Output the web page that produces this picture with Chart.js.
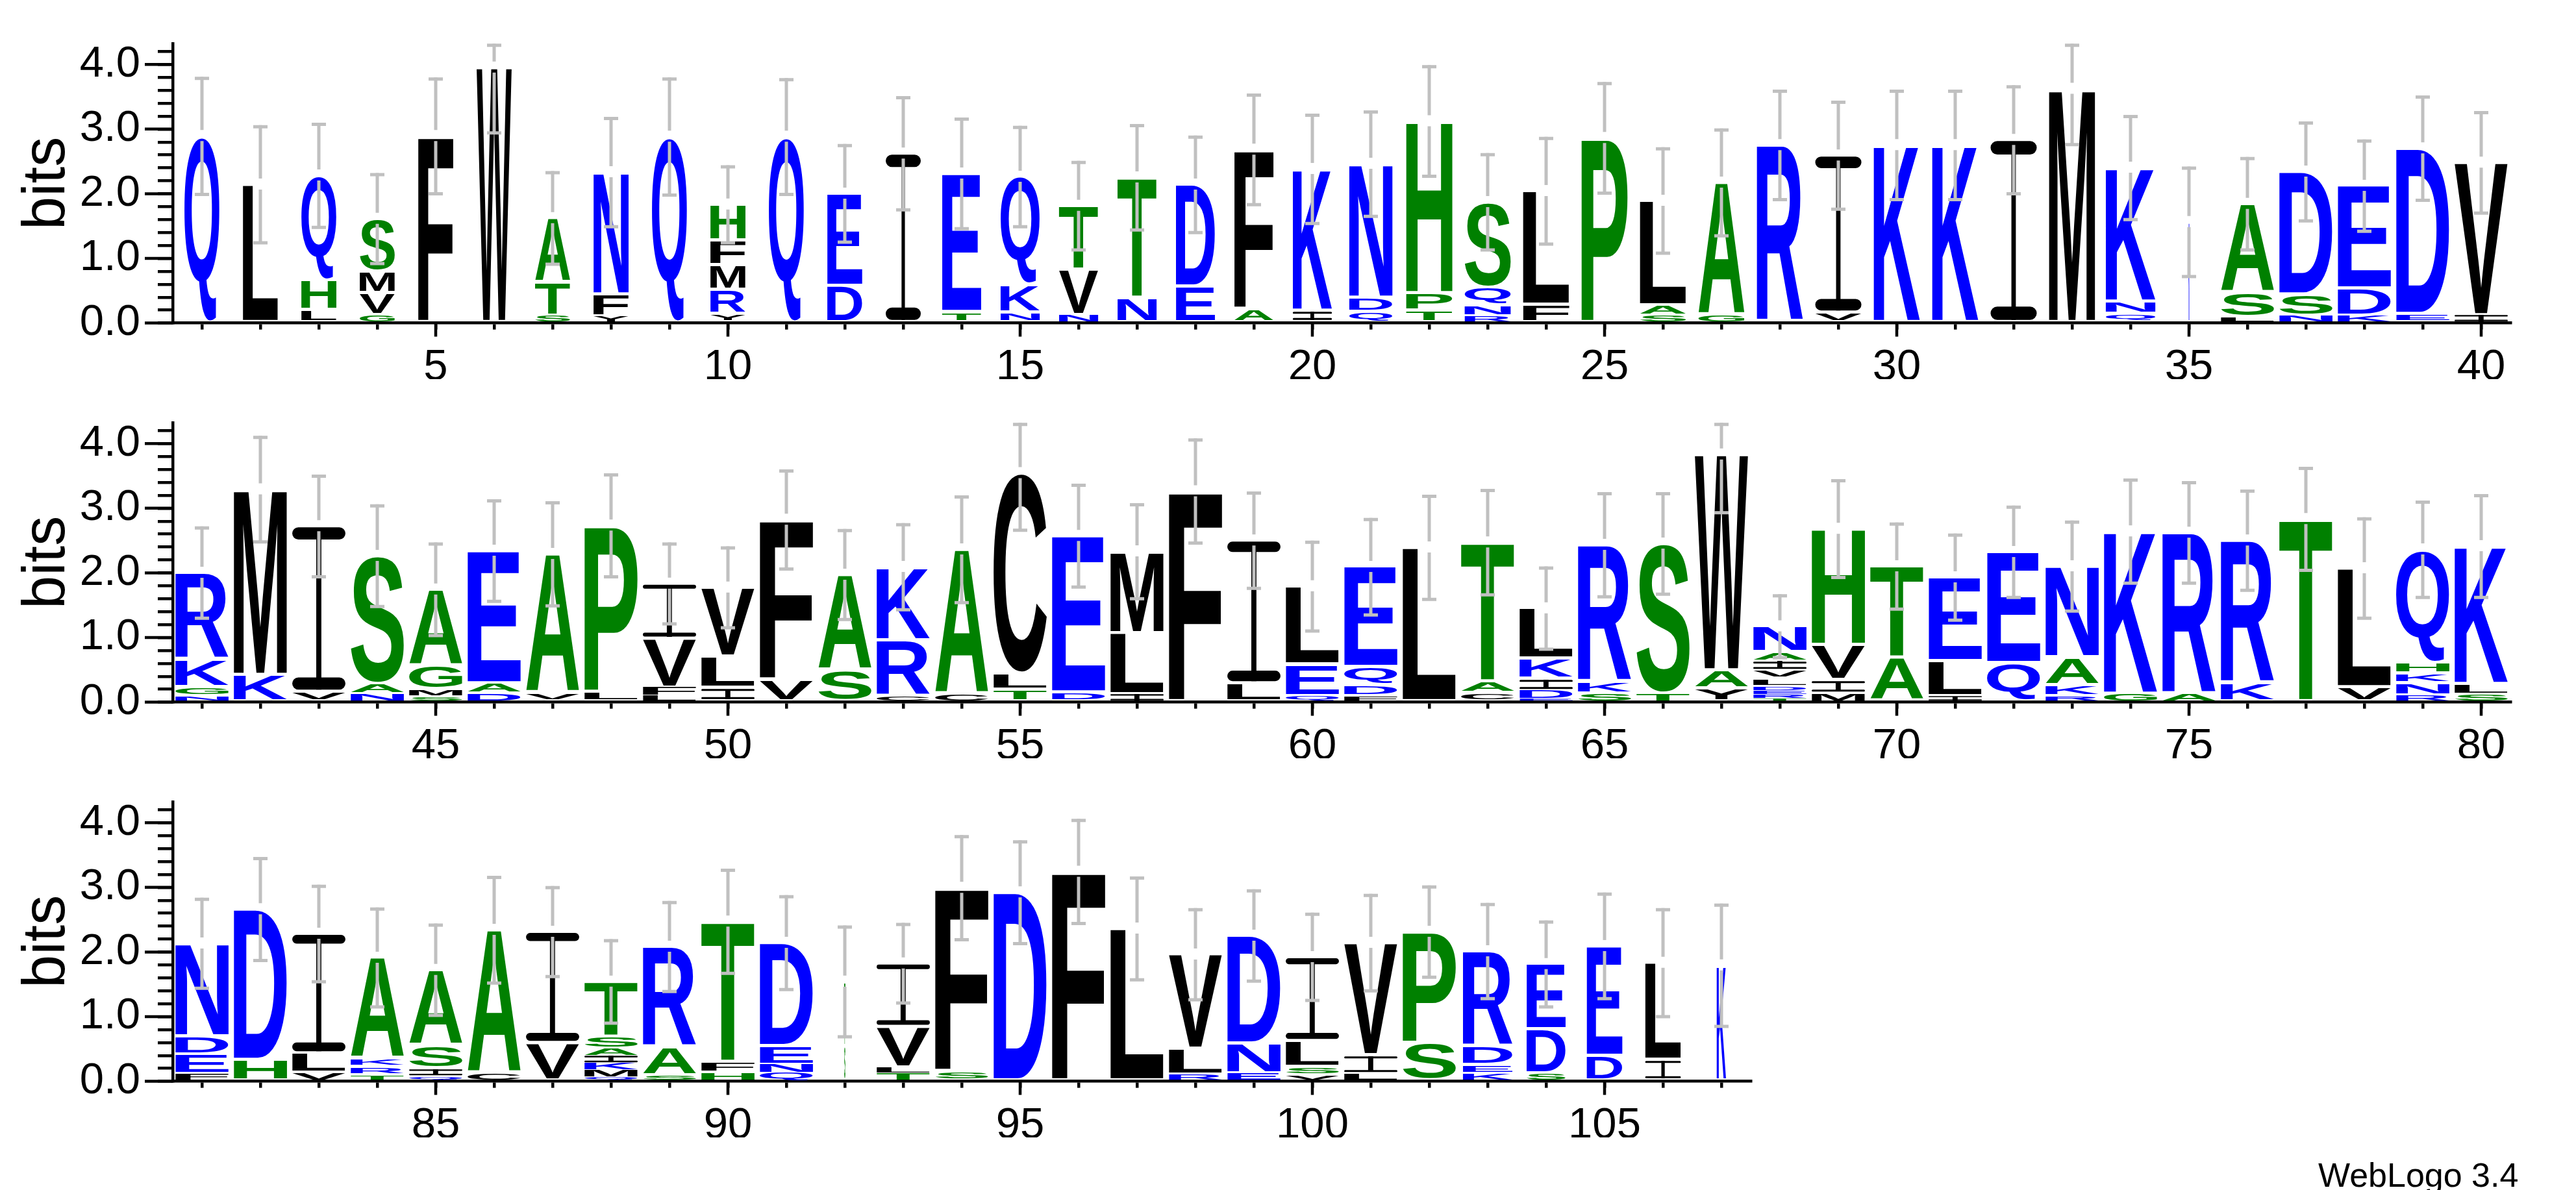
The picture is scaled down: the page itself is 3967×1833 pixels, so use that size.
<!DOCTYPE html>
<html lang="en">
  <head>
    <meta charset="utf-8" />
    <title>WebLogo 3.4</title>
    <style>
      * {
        margin: 0;
        padding: 0;
      }
      body {
        width: 3967px;
        height: 1833px;
        background: white;
        position: relative;
        overflow: hidden;
        font-family: "Liberation Sans", Arial, sans-serif;
      }
      .row {
        position: absolute;
        left: 0;
      }
      .credit {
        position: absolute;
        left: 3570px;
        top: 1784px;
        font-size: 52px;
        line-height: 52px;
        color: #000;
        white-space: nowrap;
      }
    </style>
  </head>
  <body>
    <canvas id="row1" class="row" width="3967" height="584" style="top: 0px"></canvas>
    <canvas id="row2" class="row" width="3967" height="584" style="top: 584px"></canvas>
    <canvas id="row3" class="row" width="3967" height="584" style="top: 1168px"></canvas>
    <div class="credit">WebLogo 3.4</div>

    <script src="https://cdn.jsdelivr.net/npm/chart.js"></script>

    <script>
      // letters of each stack, bottom to top
      const row1Letters = [
        "Q", "L", "LHQ", "GVMS", "F", "W", "STA", "YFN", "Q", "YRMFH",
        "Q", "DE", "I", "TE", "NKQ", "NVT", "NT", "ED", "AF", "IK",
        "QDN", "TPH", "RNQS", "FL", "P", "SAL", "GA", "R", "VI", "K",
        "K", "I", "M", "QNK", "K", "LSA", "NSD", "KDE", "ED", "IV",
      ];
      // bits of each letter, same order
      const row1Bits = [
        [2.9], [2.15], [0.21, 0.46, 1.62], [0.13, 0.34, 0.33, 0.82], [2.9], [3.96], [0.12, 0.52, 0.99], [0.11, 0.34, 1.89], [2.89], [0.15, 0.37, 0.38, 0.39, 0.55],
        [2.89], [0.58, 1.43], [2.63], [0.18, 2.14], [0.17, 0.43, 1.67], [0.13, 0.7, 0.99], [0.4, 1.86], [0.57, 1.58], [0.23, 2.46], [0.2, 2.19],
        [0.18, 0.22, 2.07], [0.2, 0.27, 2.66], [0.11, 0.17, 0.28, 1.32], [0.29, 1.76], [2.87], [0.12, 0.16, 1.62], [0.13, 2.05], [2.76], [0.17, 2.43], [2.76],
        [2.76], [2.84], [3.63], [0.15, 0.19, 2.07], [1.57], [0.1, 0.38, 1.37], [0.12, 0.33, 1.9], [0.12, 0.42, 1.59], [0.15, 2.56], [0.13, 2.36],
      ];
      const row1Err = [
        0.91, 0.91, 0.81, 0.7, 0.9, 1.02, 0.72, 0.85, 0.91, 0.6,
        0.9, 0.76, 0.88, 0.86, 0.78, 0.69, 0.82, 0.75, 0.86, 0.85,
        0.82, 0.86, 0.75, 0.83, 0.86, 0.82, 0.83, 0.85, 0.84, 0.85,
        0.85, 0.84, 0.87, 0.81, 0.85, 0.72, 0.77, 0.71, 0.81, 0.79,
      ];
      // fraction of sequences without a gap (stack width)
      const row1Occupancy = [
        0.6, 0.6, 0.6, 0.6, 0.6, 0.6, 0.6, 0.6, 0.6, 0.6,
        0.6, 0.6, 0.6, 0.67, 0.67, 0.67, 0.67, 0.67, 0.67, 0.67,
        0.74, 0.79, 0.79, 0.79, 0.79, 0.79, 0.79, 0.79, 0.79, 0.79,
        0.79, 0.79, 0.79, 0.85, 0.02, 0.91, 0.91, 0.91, 0.91, 0.91,
      ];

      const row2Letters = [
        "NGKR", "KM", "VI", "NAS", "SMGA", "DAE", "VA", "LP", "LFVI", "ILV",
        "VF", "SA", "CRK", "CA", "TLC", "DE", "ILM", "F", "LI", "QEL",
        "FDQE", "L", "CAT", "EDIKL", "SKR", "TS", "YAW", "TREDLVIAN", "MIVH", "AT",
        "ILE", "QE", "RKAN", "GK", "AR", "KR", "T", "VL", "RNKHQ", "SLK",
      ];
      const row2Bits = [
        [0.1, 0.14, 0.42, 1.35], [0.43, 2.87], [0.17, 2.56], [0.13, 0.16, 1.98], [0.08, 0.13, 0.37, 1.17], [0.14, 0.16, 2.05], [0.15, 2.15], [0.17, 2.57], [0.11, 0.12, 0.76, 0.85], [0.23, 0.48, 1.07],
        [0.36, 2.47], [0.5, 1.48], [0.1, 0.87, 1.13], [0.13, 2.24], [0.2, 0.25, 3.1], [0.16, 2.42], [0.13, 0.95, 1.26], [3.27], [0.3, 2.21], [0.1, 0.49, 1.21],
        [0.1, 0.17, 0.28, 1.55], [2.4], [0.15, 0.18, 2.15], [0.06, 0.12, 0.19, 0.31, 0.78], [0.14, 0.18, 2.12], [0.14, 2.32], [0.22, 0.28, 3.34], [0.06, 0.06, 0.06, 0.06, 0.13, 0.14, 0.12, 0.15, 0.4], [0.14, 0.21, 0.54, 1.8], [0.69, 1.42],
        [0.1, 0.54, 1.3], [0.61, 1.72], [0.1, 0.17, 0.43, 1.41], [0.14, 2.51], [0.13, 2.5], [0.3, 2.21], [2.84], [0.24, 1.84], [0.11, 0.19, 0.15, 0.17, 1.75], [0.12, 0.17, 2.13],
      ];
      const row2Err = [
        0.71, 0.82, 0.79, 0.79, 0.72, 0.79, 0.81, 0.8, 0.63, 0.63,
        0.77, 0.7, 0.67, 0.83, 0.89, 0.8, 0.74, 0.81, 0.75, 0.7,
        0.75, 0.81, 0.82, 0.64, 0.81, 0.79, 0.91, 0.49, 0.76, 0.67,
        0.67, 0.71, 0.7, 0.81, 0.79, 0.78, 0.8, 0.78, 0.75, 0.8,
      ];
      const row2Occupancy = new Array(40).fill(0.91);

      const row3Letters = [
        "FEDN", "HD", "VLI", "TRKA", "QISA", "CA", "VI", "QMKIAST", "SAR", "HFT",
        "QNED", "ST", "TLVI", "SF", "D", "F", "L", "RLV", "END", "VSLI",
        "LIV", "SP", "KEDR", "SDE", "DE", "IL", "K",
      ];
      const row3Bits = [
        [0.12, 0.3, 0.28, 1.44], [0.34, 2.33], [0.14, 0.3, 1.85], [0.1, 0.13, 0.13, 1.56], [0.07, 0.14, 0.36, 1.16], [0.13, 2.22], [0.6, 1.72], [0.07, 0.11, 0.11, 0.11, 0.11, 0.19, 0.85], [0.1, 0.44, 1.55], [0.14, 0.17, 2.17],
        [0.14, 0.12, 0.29, 1.6], [0.55, 1.0], [0.13, 0.09, 0.63, 0.98], [0.17, 2.83], [2.93], [3.25], [2.37], [0.11, 0.4, 1.46], [0.13, 0.46, 1.67], [0.1, 0.13, 0.4, 1.3],
        [0.12, 0.29, 1.74], [0.6, 1.72], [0.12, 0.14, 0.29, 1.47], [0.13, 0.68, 1.01], [0.4, 1.7], [0.34, 1.5], [1.8],
      ];
      const row3Err = [
        0.7, 0.8, 0.75, 0.77, 0.71, 0.83, 0.7, 0.65, 0.7, 0.81,
        0.73, 0.86, 0.62, 0.81, 0.8, 0.81, 0.8, 0.71, 0.71, 0.68,
        0.75, 0.71, 0.74, 0.67, 0.82, 0.84, 0.95,
      ];
      const row3Occupancy = [
        0.91, 0.91, 0.91, 0.91, 0.91, 0.91, 0.91, 0.91, 0.91, 0.91,
        0.91, 0.02, 0.91, 0.91, 0.91, 0.91, 0.91, 0.91, 0.91, 0.91,
        0.91, 0.91, 0.85, 0.67, 0.61, 0.61, 0.16,
      ];

      // log2(20), the top of the bits axis
      const maxBits = Math.log2(20);
      const letterFont = 'bold 200px "Liberation Sans"';

      // hydrophobicity colour scheme
      const blueSet = "RKDENQ";
      const greenSet = "SGHTAP";
      function letterColor(ch) {
        if (blueSet.includes(ch)) return "#0000ff";
        if (greenSet.includes(ch)) return "#008000";
        return "#000000";
      }

      // glyph bounding boxes, measured once per letter
      const glyphCache = {};
      function glyphMetrics(ctx, ch) {
        if (!glyphCache[ch]) {
          ctx.save();
          ctx.font = letterFont;
          const m = ctx.measureText(ch);
          glyphCache[ch] = {
            left: m.actualBoundingBoxLeft,
            right: m.actualBoundingBoxRight,
            ascent: m.actualBoundingBoxAscent,
            descent: m.actualBoundingBoxDescent,
          };
          ctx.restore();
        }
        return glyphCache[ch];
      }

      // Stretch a glyph so that it fills the box
      function drawGlyph(ctx, ch, left, top, w, h, color) {
        const g = glyphMetrics(ctx, ch);
        ctx.save();
        ctx.font = letterFont;
        ctx.fillStyle = color;
        ctx.textAlign = "left";
        ctx.textBaseline = "alphabetic";
        ctx.translate(left, top);
        ctx.scale(w / (g.left + g.right), h / (g.ascent + g.descent));
        ctx.fillText(ch, g.left, g.ascent);
        ctx.restore();
      }

      function drawLetter(ctx, ch, left, top, w, h) {
        const pad = h > 12 ? 2.5 : 0.5;
        const hh = h - 2 * pad;
        if (hh <= 0 || w <= 0) return;
        const color = letterColor(ch);
        if (ch !== "I") {
          drawGlyph(ctx, ch, left, top + pad, w, hh, color);
          return;
        }
        // the logo "I": thin stem with rounded bars top and bottom
        const stemW = Math.max(1, w * 0.1);
        const barH = Math.max(hh * 0.075, Math.min(3, hh * 0.25));
        drawGlyph(ctx, "I", left + (w - stemW) / 2, top + pad, stemW, hh, color);
        ctx.save();
        ctx.fillStyle = color;
        ctx.beginPath();
        const r = Math.min(barH / 2, w / 2);
        ctx.roundRect(left, top + pad, w, barH, r);
        ctx.roundRect(left, top + pad + hh - barH, w, barH, r);
        ctx.fill();
        ctx.restore();
      }

      // letters, error bars and the long ticks
      function logoPlugin(letters, bits, errs, occupancy) {
        return {
          id: "logo",
          afterDatasetsDraw(chart) {
            const {
              ctx,
              scales: { x, y },
            } = chart;
            const step = x.getPixelForValue(1) - x.getPixelForValue(0);

            letters.forEach((stack, i) => {
              const w = step * occupancy[i];
              for (let k = 0; k < stack.length; k++) {
                const bar = chart.getDatasetMeta(k).data[i];
                const p = bar.getProps(["x", "y", "base"], true);
                drawLetter(ctx, stack[k], p.x - w / 2, p.y, w, p.base - p.y);
              }
            });

            // error bars, with a small break at the stack top
            ctx.save();
            ctx.strokeStyle = "#c0c0c0";
            ctx.lineWidth = 5;
            ctx.lineCap = "butt";
            letters.forEach((stack, i) => {
              const total = bits[i].reduce((a, b) => a + b, 0);
              const cx = x.getPixelForValue(i);
              const top = y.getPixelForValue(Math.min(maxBits, total + errs[i]));
              const bottom = y.getPixelForValue(Math.max(0, total - errs[i]));
              const mid = y.getPixelForValue(total);
              ctx.beginPath();
              ctx.moveTo(cx, top);
              ctx.lineTo(cx, mid - 8.5);
              ctx.moveTo(cx, mid + 8.5);
              ctx.lineTo(cx, bottom);
              ctx.stroke();
              ctx.beginPath();
              ctx.moveTo(cx - 11, top + 2.5);
              ctx.lineTo(cx + 11, top + 2.5);
              ctx.moveTo(cx - 11, bottom);
              ctx.lineTo(cx + 11, bottom);
              ctx.stroke();
            });
            ctx.restore();

            // longer ticks at the labelled values
            ctx.save();
            ctx.strokeStyle = "#000";
            ctx.lineWidth = 4.5;
            ctx.beginPath();
            for (let v = 0; v <= 4; v++) {
              const py = y.getPixelForValue(v);
              ctx.moveTo(x.left - 43, py);
              ctx.lineTo(x.left, py);
            }
            letters.forEach((stack, i) => {
              if (Number(x.getLabelForValue(i)) % 5 === 0) {
                const px = x.getPixelForValue(i);
                ctx.moveTo(px, y.bottom);
                ctx.lineTo(px, y.bottom + 21);
              }
            });
            ctx.stroke();
            ctx.restore();
          },
        };
      }

      function makeRow(canvasId, start, letters, bits, errs, occupancy) {
        const labels = letters.map((s, i) => String(start + i));
        const layers = Math.max(...bits.map((b) => b.length));
        const datasets = [];
        for (let k = 0; k < layers; k++) {
          datasets.push({
            data: bits.map((b) => (b[k] === undefined ? null : b[k])),
            backgroundColor: "rgba(0,0,0,0)",
            borderWidth: 0,
            barPercentage: 1,
            categoryPercentage: 1,
          });
        }
        // chart right edge follows the number of columns
        const right = 266 + letters.length * 90;

        return new Chart(document.getElementById(canvasId), {
          type: "bar",
          data: { labels, datasets },
          options: {
            responsive: false,
            animation: false,
            events: [],
            layout: { padding: { top: 48, right: 3967 - right, left: 0, bottom: 0 } },
            plugins: { legend: { display: false }, tooltip: { enabled: false } },
            scales: {
              x: {
                stacked: true,
                offset: true,
                afterFit: (scale) => {
                  scale.height = 86.4;
                },
                grid: {
                  offset: false,
                  drawOnChartArea: false,
                  tickLength: 10,
                  tickWidth: 4.5,
                  lineWidth: 4.5,
                  color: "#000",
                },
                border: { display: true, color: "#000", width: 4.5 },
                ticks: {
                  autoSkip: false,
                  maxRotation: 0,
                  padding: 19,
                  color: "#000",
                  font: { family: "Liberation Sans", size: 67 },
                  callback(v) {
                    const n = Number(this.getLabelForValue(v));
                    return n % 5 === 0 ? String(n) : "";
                  },
                },
              },
              y: {
                stacked: true,
                min: 0,
                max: maxBits,
                afterFit: (scale) => {
                  scale.width = 266;
                },
                grid: {
                  drawOnChartArea: false,
                  tickLength: 23,
                  tickWidth: 4.5,
                  lineWidth: 4.5,
                  color: "#000",
                },
                border: { display: true, color: "#000", width: 4.5 },
                ticks: {
                  stepSize: 0.2,
                  includeBounds: false,
                  autoSkip: false,
                  padding: 27,
                  color: "#000",
                  font: { family: "Liberation Sans", size: 67 },
                  callback: (v) =>
                    Math.abs(v - Math.round(v)) < 1e-6 ? v.toFixed(1) : "",
                },
                title: {
                  display: true,
                  text: "bits",
                  color: "#000",
                  font: { family: "Liberation Sans", size: 92, lineHeight: 1.2 },
                  padding: { top: 18, bottom: 0 },
                },
              },
            },
          },
          plugins: [logoPlugin(letters, bits, errs, occupancy)],
        });
      }

      makeRow("row1", 1, row1Letters, row1Bits, row1Err, row1Occupancy);
      makeRow("row2", 41, row2Letters, row2Bits, row2Err, row2Occupancy);
      makeRow("row3", 81, row3Letters, row3Bits, row3Err, row3Occupancy);
    </script>
  </body>
</html>
